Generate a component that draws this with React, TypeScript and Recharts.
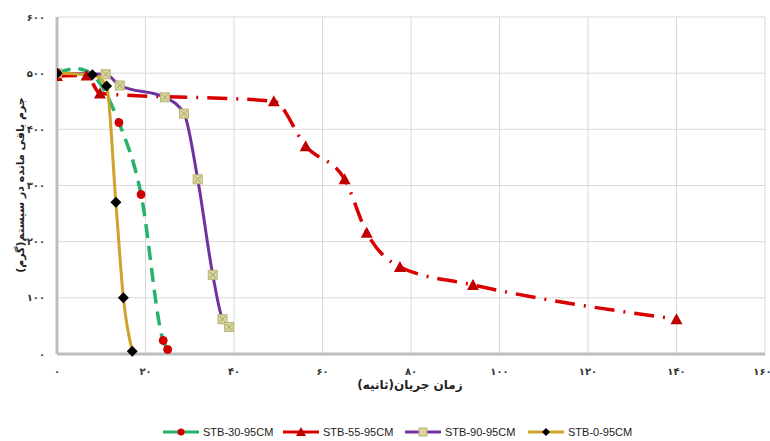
import React from "react";
import { LineChart, Line, XAxis, YAxis, CartesianGrid } from "recharts";

const xTicks = [0, 20, 40, 60, 80, 100, 120, 140, 160];
const yTicks = [0, 100, 200, 300, 400, 500, 600];

const stb30X = [0, 4.5, 8, 14, 19, 24, 25];
const stb30Y = [500, 508, 497, 412, 284, 24, 8];

const stb55X = [0, 6.7, 9.7, 49, 56.2, 65, 70, 77.5, 94, 140];
const stb55Y = [495, 496, 464, 450, 370, 311, 216, 155, 123, 62];

const stb90X = [0, 11, 14.2, 24.4, 28.7, 31.8, 35.2, 37.4, 38.9];
const stb90Y = [500, 498, 478, 457, 428, 311, 141, 62, 48];

const stb0X = [0, 8, 11.2, 13.3, 15, 17];
const stb0Y = [500, 497, 477, 270, 100, 5];

const seriesNames = ["STB-30-95CM", "STB-55-95CM", "STB-90-95CM", "STB-0-95CM"];
const xTitle = "زمان جریان(ثانیه)";
const yTitle = "جرم باقی مانده در سیستم(گرم)";

const toRows = (xs: number[], ys: number[]) => xs.map((x, i) => ({ x, y: ys[i] }));

const fa = (n: number) => String(n).replace(/\d/g, (d) => "۰۱۲۳۴۵۶۷۸۹"[Number(d)]);

const GREEN = "#23b36a";
const RED = "#d80000";
const PURPLE = "#7030a0";
const GOLD = "#cfa22a";

const CircleDot = (p: any) =>
  p.index === 1 || p.index === 2 ? (
    <g key={`c${p.index}`} />
  ) : (
    <circle key={`c${p.index}`} cx={p.cx} cy={p.cy} r={4} fill="#d00000" stroke="#d00000" />
  );
const TriDot = (p: any) => (
  <path
    key={`t${p.index}`}
    d={`M${p.cx},${p.cy - 6} L${p.cx + 6},${p.cy + 5} L${p.cx - 6},${p.cy + 5} Z`}
    fill="#c00000"
  />
);
const SqDot = (p: any) => (
  <g key={`s${p.index}`}>
    <rect x={p.cx - 4.5} y={p.cy - 4.5} width={9} height={9} fill="#d8d69a" stroke="#b5b27a" strokeWidth={1} />
    <path d={`M${p.cx - 3},${p.cy - 3} L${p.cx + 3},${p.cy + 3} M${p.cx + 3},${p.cy - 3} L${p.cx - 3},${p.cy + 3}`} stroke="#a6a36a" strokeWidth={1} />
  </g>
);
const DiaDot = (p: any) => (
  <path
    key={`d${p.index}`}
    d={`M${p.cx},${p.cy - 5.5} L${p.cx + 5.5},${p.cy} L${p.cx},${p.cy + 5.5} L${p.cx - 5.5},${p.cy} Z`}
    fill="#000"
  />
);

const LegendContent = () => {
  const items = [
    { name: seriesNames[0], color: GREEN, marker: "c", x: 163 },
    { name: seriesNames[1], color: RED, marker: "t", x: 283 },
    { name: seriesNames[2], color: PURPLE, marker: "s", x: 405 },
    { name: seriesNames[3], color: GOLD, marker: "d", x: 528 },
  ];
  return (
    <svg width={770} height={20} style={{ display: "block" }}>
      {items.map((it) => {
        const cx = it.x + 18;
        const cy = 9;
        return (
          <g key={it.name}>
            <line x1={it.x} y1={cy} x2={it.x + 36} y2={cy} stroke={it.color} strokeWidth={3} />
            {it.marker === "c" && <circle cx={cx} cy={cy} r={3.5} fill="#d00000" />}
            {it.marker === "t" && <path d={`M${cx},${cy - 5} L${cx + 5},${cy + 4} L${cx - 5},${cy + 4} Z`} fill="#c00000" />}
            {it.marker === "s" && <rect x={cx - 4} y={cy - 4} width={8} height={8} fill="#d8d69a" stroke="#b5b27a" />}
            {it.marker === "d" && <path d={`M${cx},${cy - 4} L${cx + 4},${cy} L${cx},${cy + 4} L${cx - 4},${cy} Z`} fill="#000" />}
            <text x={it.x + 40} y={cy + 4} fontSize={11} fill="#222" fontFamily="'Liberation Sans Narrow', 'Liberation Sans', Arial, sans-serif">
              {it.name}
            </text>
          </g>
        );
      })}
    </svg>
  );
};

export default function App() {
  const tickStyle = { fontSize: 10, fill: "#333", fontFamily: "'DejaVu Sans', sans-serif", fontWeight: 700 };
  return (
    <div style={{ position: "absolute", left: 0, top: 0, width: 770, height: 441, background: "#fff", overflow: "hidden" }}>
      <LineChart width={770} height={441} margin={{ top: 17, right: 5, bottom: 47, left: 0 }}>
        <CartesianGrid stroke="#d9d9d9" strokeWidth={1} vertical horizontal />
        <XAxis
          type="number"
          dataKey="x"
          domain={[0, 160]}
          ticks={xTicks}
          tickFormatter={fa}
          allowDataOverflow
          axisLine={{ stroke: "#bdbdbd", strokeWidth: 3 }}
          tickLine={false}
          tickSize={0}
          tickMargin={14}
          height={40}
          tick={tickStyle}
          label={{
            content: (props: any) => {
              const vb = props.viewBox;
              return (
                <text x={410} y={vb.y + 35} textAnchor="middle" fontSize={12} fontWeight={700} fill="#222" fontFamily="'DejaVu Sans', sans-serif">
                  {xTitle}
                </text>
              );
            },
          }}
        />
        <YAxis
          type="number"
          dataKey="y"
          domain={[0, 600]}
          ticks={yTicks}
          tickFormatter={fa}
          axisLine={{ stroke: "#bdbdbd", strokeWidth: 3 }}
          tickLine={false}
          tickSize={0}
          tickMargin={12}
          width={57}
          tick={tickStyle}
          label={{
            content: () => (
              <text
                x={21}
                y={185}
                transform="rotate(-90 21 185)"
                textAnchor="middle"
                dominantBaseline="middle"
                fontSize={11}
                fontWeight={700}
                fill="#222"
                fontFamily="'DejaVu Sans', sans-serif"
              >
                {yTitle}
              </text>
            ),
          }}
        />
        <Line
          data={toRows(stb55X, stb55Y)}
          dataKey="y"
          name={seriesNames[1]}
          type="monotone"
          stroke={RED}
          strokeWidth={3.5}
          strokeDasharray="20 9 2 9"
          dot={TriDot}
          activeDot={false}
          isAnimationActive={false}
        />
        <Line
          data={toRows(stb90X, stb90Y)}
          dataKey="y"
          name={seriesNames[2]}
          type="monotone"
          stroke={PURPLE}
          strokeWidth={3}
          dot={SqDot}
          activeDot={false}
          isAnimationActive={false}
        />
        <Line
          data={toRows(stb30X, stb30Y)}
          dataKey="y"
          name={seriesNames[0]}
          type="monotone"
          stroke={GREEN}
          strokeWidth={3.5}
          strokeDasharray="14 8"
          dot={CircleDot}
          activeDot={false}
          isAnimationActive={false}
        />
        <Line
          data={toRows(stb0X, stb0Y)}
          dataKey="y"
          name={seriesNames[3]}
          type="monotone"
          stroke={GOLD}
          strokeWidth={3}
          dot={DiaDot}
          activeDot={false}
          isAnimationActive={false}
        />
      </LineChart>
      <div style={{ position: "absolute", left: 0, top: 423, width: 770, height: 20 }}>
        <LegendContent />
      </div>
    </div>
  );
}
